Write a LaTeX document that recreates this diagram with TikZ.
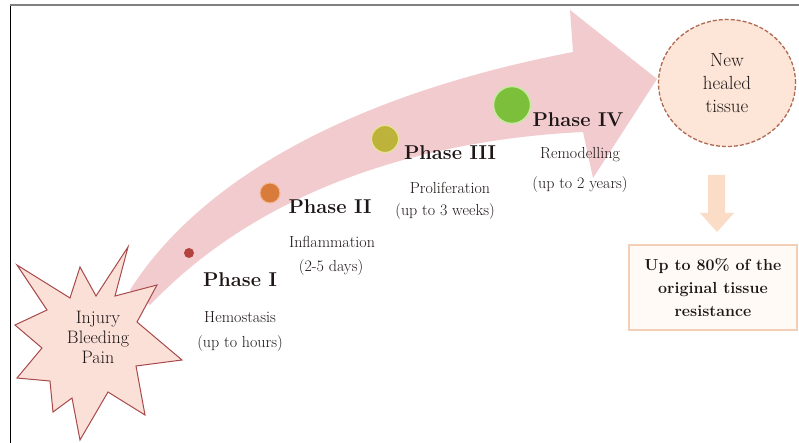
\documentclass[tikz,border=0pt]{standalone}
\usepackage{fontspec}
\usetikzlibrary{shapes.geometric}
\definecolor{bandpink}{HTML}{F2CBCE}
\definecolor{starfill}{HTML}{FBE0D8}
\definecolor{starline}{HTML}{A8494B}
\definecolor{txt}{HTML}{1E1616}
\definecolor{dotone}{HTML}{B4433F}
\definecolor{dottwo}{HTML}{D97B3B}
\definecolor{dottwoline}{HTML}{F3B88E}
\definecolor{dotthree}{HTML}{BDB23A}
\definecolor{dotthreeline}{HTML}{E8E294}
\definecolor{dotfour}{HTML}{7CBF3A}
\definecolor{dotfourline}{HTML}{C9E8A2}
\definecolor{healfill}{HTML}{FDE6D8}
\definecolor{healline}{HTML}{B06A52}
\definecolor{arrowpeach}{HTML}{FBDCC6}
\definecolor{boxline}{HTML}{F4CFB8}
\definecolor{boxfill}{HTML}{FFFAF6}
\tikzset{
  phasetitle/.style={text=txt, inner sep=0pt, font=\fontsize{20}{22}\selectfont\bfseries},
  phasedesc/.style={text=txt, inner sep=0pt, font=\fontsize{16}{18}\selectfont},
  phasedot/.style={circle, inner sep=0pt},
}
\begin{document}
\begin{tikzpicture}[x=1pt,y=-1pt]
\useasboundingbox (0,0) rectangle (799,443);
\fill[white] (0,0) rectangle (799,443);
% frame
\draw[black, line width=1pt] (10.5,5) -- (10.5,443);
\draw[gray, line width=1.5pt] (10,5) -- (799,5);
% big curved arrow
\fill[bandpink] (130,290) .. controls (200,180) and (350,95) .. (573,52)
  -- (570,10) -- (657,79) -- (593,178) -- (583,132)
  .. controls (420,140) and (260,190) .. (150,305) -- cycle;
% star
\filldraw[fill=starfill, draw=starline, line width=1pt]
  (128,247) -- (115,296) -- (157,285) -- (137,322) -- (182,360) -- (136,366)
  -- (145,415) -- (108,392) -- (80,440) -- (72,398) -- (53,412) -- (50,381)
  -- (17,378) -- (42,348) -- (15,325) -- (47,310) -- (17,265) -- (70,298)
  -- (80,267) -- (96,296) -- cycle;
\node[text=txt, align=center, inner sep=0pt, font=\fontsize{18}{20}\selectfont] (injury) at (98,337) {Injury\\Bleeding\\Pain};
% phase dots
\node[phasedot, minimum size=10pt, fill=dotone] (d1) at (189,253) {};
\node[phasedot, minimum size=20pt, fill=dottwo, draw=dottwoline, line width=1pt] (d2) at (270,193) {};
\node[phasedot, minimum size=27pt, fill=dotthree, draw=dotthreeline, line width=1.2pt] (d3) at (385,139) {};
\node[phasedot, minimum size=37pt, fill=dotfour, draw=dotfourline, line width=1.5pt] (d4) at (512,105) {};
% phase texts
\node[phasetitle] (p1) at (240,280) {Phase I};
\node[phasedesc] (p1a) at (240,317) {Hemostasis};
\node[phasedesc] (p1b) at (240,344) {(up to hours)};
\node[phasetitle] (p2) at (330,207) {Phase II};
\node[phasedesc] (p2a) at (332,242) {Inflammation};
\node[phasedesc] (p2b) at (331,268) {(2-5 days)};
\node[phasetitle] (p3) at (450,153) {Phase III};
\node[phasedesc] (p3a) at (450,188) {Proliferation};
\node[phasedesc] (p3b) at (445,212) {(up to 3 weeks)};
\node[phasetitle] (p4) at (578,120) {Phase IV};
\node[phasedesc] (p4a) at (580,155) {Remodelling};
\node[phasedesc] (p4b) at (580,185) {(up to 2 years)};
% healed tissue
\node[ellipse, draw=healline, dash pattern=on 4pt off 2pt, line width=1.3pt, fill=healfill,
  minimum width=137pt, minimum height=127pt, align=center, text=txt,
  font=\fontsize{19}{23}\selectfont] (heal) at (727,83) {New\\healed\\tissue};
% down arrow
\fill[arrowpeach] (708,175) -- (725,175) -- (725,213) -- (734,213) -- (717,232)
  -- (700,213) -- (708,213) -- cycle;
% result box
\node[draw=boxline, fill=boxfill, line width=1.2pt, minimum width=168pt, minimum height=85pt,
  align=center, text=txt, font=\fontsize{16}{23}\selectfont\bfseries] (res) at (713,287.5)
  {Up to 80\% of the\\original tissue\\resistance};
\end{tikzpicture}
\end{document}
